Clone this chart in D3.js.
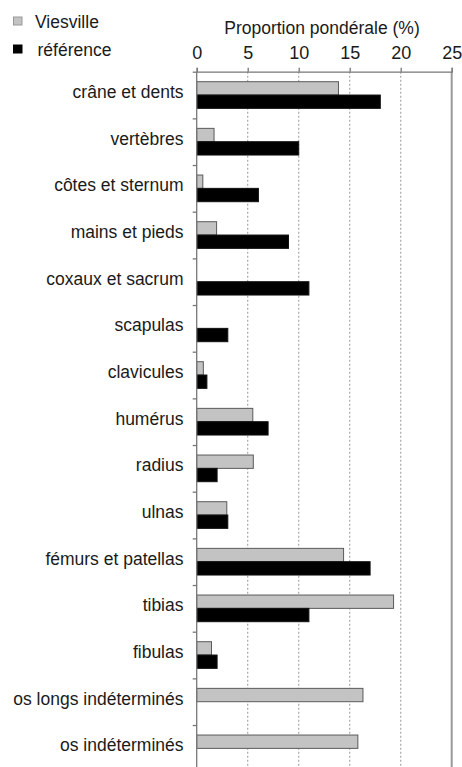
<!DOCTYPE html>
<html>
<head>
<meta charset="utf-8">
<script src="https://cdn.jsdelivr.net/npm/d3@7"></script>
<style>
  html, body { margin: 0; padding: 0; background: #fff; }
  svg { display: block; font-family: "Liberation Sans", Arial, sans-serif; }
  .graph__axis path, .graph__axis line { stroke: #777; stroke-width: 1.3; }
  .graph__axis text { fill: #1a1a1a; }
</style>
</head>
<body>
<div id="chart"></div>
<script>
// data
const categories = ["crâne et dents", "vertèbres", "côtes et sternum", "mains et pieds",
  "coxaux et sacrum", "scapulas", "clavicules", "humérus", "radius", "ulnas",
  "fémurs et patellas", "tibias", "fibulas", "os longs indéterminés", "os indéterminés"];
const seriesNames = ["Viesville", "référence"];
const viesville = [13.9, 1.7, 0.6, 1.95, 0, 0, 0.65, 5.5, 5.55, 2.95, 14.4, 19.3, 1.45, 16.3, 15.8];
const reference = [18.0, 10.0, 6.05, 9.0, 11.0, 3.05, 1.0, 7.0, 2.0, 3.05, 17.0, 11.0, 2.0, null, null];
const xTicks = [0, 5, 10, 15, 20, 25];
const axisTitle = "Proportion pondérale (%)";

const width = 462;
const height = 767;
const plotX = 196.7;
const plotW = 255;
const plotY = 71.7;
const plotBottom = 771.7;

const svg = d3.select("#chart")
  .append("svg")
  .attr("width", width)
  .attr("height", height)
  .style("overflow", "hidden");

const x = d3.scaleLinear().domain([0, 25]).range([plotX, plotX + plotW]);
const y0 = d3.scaleBand().domain(categories).range([plotY, plotBottom]).padding(0);
const y1 = d3.scaleBand().domain(seriesNames).range([0, y0.bandwidth()])
  .paddingInner(0).paddingOuter(0.75);

const colors = { "Viesville": "#c3c3c3", "référence": "#000" };
const strokes = { "Viesville": "#5a5a5a", "référence": "#111" };

// dotted grid lines
svg.append("g")
  .selectAll("line")
  .data(xTicks.filter(t => t > 0 && t < 25))
  .join("line")
  .attr("x1", d => x(d)).attr("x2", d => x(d))
  .attr("y1", plotY).attr("y2", plotBottom)
  .attr("stroke", "#a8a8a8")
  .attr("stroke-width", 1.2)
  .attr("stroke-dasharray", "2,2");

// right border at 25
svg.append("line")
  .attr("x1", x(25)).attr("x2", x(25))
  .attr("y1", plotY).attr("y2", plotBottom)
  .attr("stroke", "#9a9a9a")
  .attr("stroke-width", 2);

// bars
const rows = categories.map((c, i) => ({ cat: c, values: [
  { key: "Viesville", v: viesville[i] },
  { key: "référence", v: reference[i] }
]}));

svg.append("g")
  .selectAll("g")
  .data(rows)
  .join("g")
  .attr("transform", d => "translate(0," + y0(d.cat) + ")")
  .selectAll("rect")
  .data(d => d.values.filter(v => v.v))
  .join("rect")
  .attr("x", x(0))
  .attr("y", d => y1(d.key))
  .attr("width", d => x(d.v) - x(0))
  .attr("height", y1.bandwidth())
  .attr("fill", d => colors[d.key])
  .attr("stroke", d => strokes[d.key])
  .attr("stroke-width", 1);

// top axis
const xAxis = d3.axisTop(x).tickValues(xTicks).tickSize(4).tickPadding(9).tickFormat(d => d);
svg.append("g")
  .attr("class", "graph__axis")
  .attr("transform", "translate(0," + plotY + ")")
  .call(xAxis)
  .call(g => g.selectAll("text").style("font-size", "18px"));

// left axis with ticks on band edges
const yEdges = d3.scaleLinear().domain([0, categories.length]).range([plotY, plotBottom]);
const yAxis = d3.axisLeft(yEdges).tickValues(d3.range(0, categories.length + 1))
  .tickSize(4).tickFormat("");
svg.append("g")
  .attr("class", "graph__axis")
  .attr("transform", "translate(" + plotX + ",0)")
  .call(yAxis)
  .call(g => g.select(".domain").attr("d", "M0," + plotY + "V" + plotBottom));

// category labels
svg.append("g")
  .selectAll("text")
  .data(categories)
  .join("text")
  .attr("x", 183.5)
  .attr("y", d => y0(d) + y0.bandwidth() / 2 + 3)
  .attr("text-anchor", "end")
  .style("font-size", "17.5px")
  .style("fill", "#1a1a1a")
  .text(d => d);

// axis title
svg.append("text")
  .attr("x", 322)
  .attr("y", 33.5)
  .attr("text-anchor", "middle")
  .style("font-size", "17.5px")
  .style("fill", "#1a1a1a")
  .text(axisTitle);

// legend
const legendY = [21, 49];
const legend = svg.append("g")
  .selectAll("g")
  .data(seriesNames)
  .join("g")
  .attr("transform", (d, i) => "translate(13," + legendY[i] + ")");

legend.append("rect")
  .attr("x", 0.5).attr("y", -4)
  .attr("width", 8.5).attr("height", 8)
  .attr("fill", d => colors[d])
  .attr("stroke", d => d === "Viesville" ? "#999" : "#000")
  .attr("stroke-width", 1);

legend.append("text")
  .attr("x", (d, i) => i === 0 ? 22 : 24.5)
  .attr("y", 7)
  .style("font-size", "17.5px")
  .style("fill", "#1a1a1a")
  .text(d => d);
</script>
</body>
</html>
